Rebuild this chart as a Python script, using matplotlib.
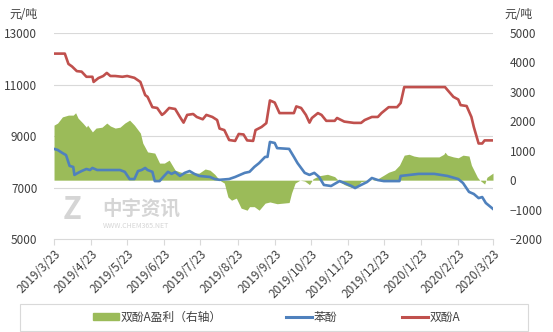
import numpy as np
import pandas as pd
import matplotlib
matplotlib.use("Agg")
import matplotlib.pyplot as plt
import matplotlib.transforms as mtransforms
from matplotlib.patches import Rectangle

plt.rcParams['font.family'] = ['Noto Sans CJK SC', 'DejaVu Sans']

# BPA price (left axis)
bpa_dates = ['2019-03-23', '2019-04-01', '2019-04-04', '2019-04-07', '2019-04-11', '2019-04-15',
             '2019-04-19', '2019-04-24', '2019-04-25', '2019-04-29', '2019-05-03', '2019-05-06',
             '2019-05-09', '2019-05-13', '2019-05-19', '2019-05-23', '2019-05-29', '2019-06-03',
             '2019-06-07', '2019-06-09', '2019-06-13', '2019-06-17', '2019-06-21', '2019-06-23',
             '2019-06-27', '2019-07-02', '2019-07-06', '2019-07-09', '2019-07-12', '2019-07-17',
             '2019-07-20', '2019-07-25', '2019-07-28', '2019-08-02', '2019-08-06', '2019-08-08',
             '2019-08-12', '2019-08-16', '2019-08-21', '2019-08-24', '2019-08-28', '2019-08-31',
             '2019-09-05', '2019-09-07', '2019-09-12', '2019-09-16', '2019-09-19', '2019-09-23',
             '2019-09-27', '2019-10-09', '2019-10-11', '2019-10-15', '2019-10-19', '2019-10-22',
             '2019-10-24', '2019-10-29', '2019-11-01', '2019-11-05', '2019-11-12', '2019-11-14',
             '2019-11-20', '2019-11-28', '2019-12-04', '2019-12-07', '2019-12-13', '2019-12-18',
             '2019-12-21', '2019-12-27', '2020-01-03', '2020-01-06', '2020-01-09', '2020-02-12',
             '2020-02-14', '2020-02-19', '2020-02-23', '2020-02-25', '2020-03-01', '2020-03-05',
             '2020-03-07', '2020-03-11', '2020-03-14', '2020-03-16', '2020-03-23']
bpa = [12200, 12200, 11800, 11700, 11520, 11500,
       11300, 11300, 11100, 11250, 11330, 11450,
       11330, 11330, 11300, 11330, 11260, 11100,
       10590, 10520, 10120, 10090, 9820, 9890,
       10090, 10050, 9740, 9520, 9820, 9855,
       9740, 9650, 9820, 9740, 9620, 9290,
       9230, 8845, 8810, 9080, 9060, 8830,
       8810, 9230, 9350, 9500, 10380, 10300,
       9890, 9890, 10150, 10090, 9820, 9520,
       9700, 9890, 9820, 9590, 9590, 9700,
       9560, 9510, 9510, 9620, 9740, 9740,
       9890, 10120, 10120, 10280, 10900, 10900,
       10790, 10520, 10420, 10200, 10165, 9740,
       9350, 8710, 8710, 8830, 8830]

# phenol price (left axis)
phenol_dates = ['2019-03-23', '2019-03-26', '2019-03-30', '2019-04-02', '2019-04-05', '2019-04-08',
                '2019-04-09', '2019-04-12', '2019-04-15', '2019-04-19', '2019-04-22', '2019-04-24',
                '2019-04-28', '2019-05-17', '2019-05-21', '2019-05-25', '2019-05-29', '2019-06-01',
                '2019-06-04', '2019-06-07', '2019-06-09', '2019-06-13', '2019-06-15', '2019-06-19',
                '2019-06-22', '2019-06-26', '2019-06-29', '2019-07-02', '2019-07-06', '2019-07-10',
                '2019-07-14', '2019-07-18', '2019-07-22', '2019-07-31', '2019-08-04', '2019-08-08',
                '2019-08-16', '2019-08-21', '2019-08-25', '2019-08-29', '2019-09-02', '2019-09-06',
                '2019-09-10', '2019-09-15', '2019-09-17', '2019-09-19', '2019-09-23', '2019-09-25',
                '2019-10-05', '2019-10-09', '2019-10-12', '2019-10-18', '2019-10-22', '2019-10-26',
                '2019-10-30', '2019-11-03', '2019-11-09', '2019-11-16', '2019-11-20', '2019-11-26',
                '2019-11-29', '2019-12-04', '2019-12-09', '2019-12-13', '2019-12-18', '2019-12-23',
                '2020-01-05', '2020-01-06', '2020-01-21', '2020-02-03', '2020-02-14', '2020-02-23',
                '2020-02-27', '2020-03-03', '2020-03-07', '2020-03-11', '2020-03-14', '2020-03-17',
                '2020-03-23']
phenol = [8500, 8460, 8340, 8260, 7840, 7800,
          7490, 7570, 7640, 7720, 7680, 7760,
          7680, 7680, 7610, 7330, 7330, 7640,
          7680, 7760, 7680, 7610, 7250, 7250,
          7410, 7610, 7530, 7600, 7450, 7570,
          7640, 7530, 7450, 7410, 7330, 7300,
          7330, 7410, 7490, 7570, 7610, 7800,
          7950, 8190, 8190, 8770, 8730, 8530,
          8500, 8190, 7950, 7570, 7490, 7570,
          7410, 7100, 7060, 7250, 7180, 7060,
          6980, 7100, 7215, 7370, 7290, 7250,
          7250, 7450, 7530, 7530, 7450, 7330,
          7175, 6830, 6750, 6590, 6630, 6400,
          6170]

# BPA profit (right axis)
profit_dates = ['2019-03-23', '2019-03-26', '2019-03-30', '2019-04-04', '2019-04-08', '2019-04-10',
                '2019-04-12', '2019-04-16', '2019-04-19', '2019-04-20', '2019-04-24', '2019-04-27',
                '2019-05-02', '2019-05-06', '2019-05-09', '2019-05-13', '2019-05-17', '2019-05-21',
                '2019-05-25', '2019-05-29', '2019-06-03', '2019-06-05', '2019-06-09', '2019-06-15',
                '2019-06-19', '2019-06-23', '2019-06-27', '2019-07-02', '2019-07-06', '2019-07-10',
                '2019-07-18', '2019-07-22', '2019-07-27', '2019-07-31', '2019-08-04', '2019-08-08',
                '2019-08-12', '2019-08-15', '2019-08-18', '2019-08-22', '2019-08-26', '2019-08-31',
                '2019-09-02', '2019-09-06', '2019-09-10', '2019-09-15', '2019-09-19', '2019-09-25',
                '2019-10-05', '2019-10-07', '2019-10-10', '2019-10-14', '2019-10-18', '2019-10-22',
                '2019-10-25', '2019-10-30', '2019-11-06', '2019-11-12', '2019-11-16', '2019-11-20',
                '2019-11-26', '2019-12-01', '2019-12-04', '2019-12-13', '2019-12-18', '2019-12-23',
                '2019-12-27', '2020-01-01', '2020-01-05', '2020-01-09', '2020-01-13', '2020-01-17',
                '2020-01-21', '2020-02-07', '2020-02-11', '2020-02-12', '2020-02-14', '2020-02-19',
                '2020-02-23', '2020-02-27', '2020-03-03', '2020-03-05', '2020-03-10', '2020-03-12',
                '2020-03-16', '2020-03-18', '2020-03-23']
profit = [1870, 1940, 2150, 2210, 2210, 2290,
          2110, 1940, 1800, 1870, 1640, 1770,
          1800, 1940, 1840, 1770, 1800, 1940,
          2040, 1870, 1600, 1260, 960, 920,
          580, 580, 680, 340, 280, 240,
          240, 240, 380, 340, 200, 0,
          -100, -570, -680, -610, -950, -1020,
          -900, -900, -1020, -780, -740, -800,
          -760, -440, -100, 0, -30, -150,
          50, 150, 200, 120, -50, -150,
          -250, -200, -50, 0, 50, 170,
          270, 340, 510, 850, 880, 820,
          790, 790, 880, 950, 850, 790,
          760, 850, 820, 510, 100, 0,
          -130, 100, 240]

tick_dates = pd.date_range('2019-03-23', periods=13, freq=pd.DateOffset(months=1))
tick_labels = [f'{d.year}/{d.month}/{d.day}' for d in tick_dates]

green = '#9BBB59'
blue = '#4F81BD'
red = '#C0504D'
grid_c = '#D9D9D9'
txt_c = '#404040'

fig = plt.figure(figsize=(5.53, 3.32), dpi=100)
ax1 = fig.add_axes([0.0977, 0.280, 0.7938, 0.6206])
ax2 = ax1.twinx()
ax1.set_zorder(ax2.get_zorder() + 1)
ax1.patch.set_visible(False)

# profit area on right axis
pd_ = pd.to_datetime(profit_dates)
ax2.fill_between(pd_, 0, profit, color=green, linewidth=0, zorder=2)
ax2.set_ylim(-2000, 5000)
ax2.set_yticks(np.arange(-2000, 5001, 1000))

# prices on left axis
ax1.plot(pd.to_datetime(phenol_dates), phenol, color=blue, lw=1.9, solid_joinstyle='round')
ax1.plot(pd.to_datetime(bpa_dates), bpa, color=red, lw=1.9, solid_joinstyle='round')
ax1.set_ylim(5000, 13000)
ax1.set_yticks(np.arange(5000, 13001, 2000))
ax1.set_xlim(tick_dates[0], tick_dates[-1])
ax1.set_xticks(tick_dates)
ax1.set_xticklabels(tick_labels, rotation=45, ha='right', rotation_mode='anchor',
                    fontsize=8.5, color=txt_c)

# gridlines behind the area, following left-axis ticks
blend = mtransforms.blended_transform_factory(ax2.transAxes, ax1.transData)
for v in [7000, 9000, 11000, 13000]:
    ax2.plot([0, 1], [v, v], transform=blend, color=grid_c, lw=0.8, zorder=1)

for ax in (ax1, ax2):
    for s in ['top', 'left', 'right']:
        ax.spines[s].set_visible(False)
    ax.spines['bottom'].set_color(grid_c)
ax2.spines['bottom'].set_visible(False)
ax1.tick_params(axis='x', length=4, color=grid_c, pad=2)
ax1.tick_params(axis='y', length=0, labelsize=8.5, labelcolor=txt_c, pad=12)
ax2.tick_params(axis='y', length=0, labelsize=8.5, labelcolor=txt_c, pad=12)
ax2.tick_params(axis='x', length=0)

fig.text(0.043, 0.955, '元/吨', fontsize=8.5, color=txt_c, ha='center', va='center')
fig.text(0.938, 0.955, '元/吨', fontsize=8.5, color=txt_c, ha='center', va='center')

# watermark
wm = '#D5D5D5'
ax1.text(0.02, 0.14, 'Z', transform=ax1.transAxes, fontsize=22, fontweight='bold',
         color=wm, ha='left', va='center', zorder=0)
ax1.text(0.11, 0.145, '中宇资讯', transform=ax1.transAxes, fontsize=14, fontweight='bold',
         color=wm, ha='left', va='center', zorder=0)
ax1.text(0.11, 0.065, 'WWW.CHEM365.NET', transform=ax1.transAxes, fontsize=5,
         color=wm, ha='left', va='center', zorder=0)

# legend
from matplotlib.patches import Patch
from matplotlib.lines import Line2D
handles = [Patch(color=green), Line2D([], [], color=blue, lw=2.2), Line2D([], [], color=red, lw=2.2)]
labels = ['双酚A盈利（右轴）', '苯酚', '双酚A']
fig.legend(handles, labels, loc='center', bbox_to_anchor=(0.5, 0.045), ncol=3, frameon=False,
           fontsize=8.5, handlelength=2.2, handleheight=0.6, handletextpad=0.1, columnspacing=5.5,
           labelcolor=txt_c)
fig.patches.append(Rectangle((0.036, 0.004), 0.919, 0.081, transform=fig.transFigure,
                             fill=False, edgecolor=grid_c, lw=0.8))

fig.savefig('out.png', dpi=100)
